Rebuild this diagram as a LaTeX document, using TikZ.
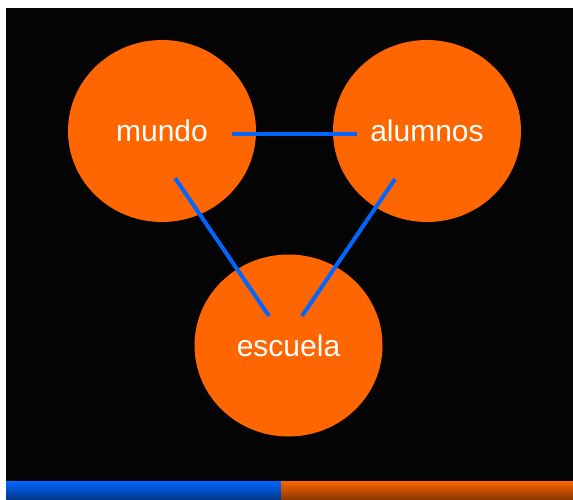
\documentclass[tikz,border=0pt]{standalone}
\usepackage{fontspec}
\setmainfont{Liberation Sans}
\usetikzlibrary{shapes.geometric}
\definecolor{naranja}{HTML}{FF6600}
\definecolor{azul}{HTML}{0066FF}
\definecolor{fondo}{HTML}{040404}
\def\franja#1#2#3{\shade [top color=#3,middle color=#3!90!black,bottom color=#3!55!black] (#1,481) rectangle (#2,499);}

\begin{document}
\begin{tikzpicture}[x=1pt,y=-1pt,
  bubble/.style={ellipse,fill=naranja,text=white,minimum width=188pt,
    minimum height=182pt,inner sep=0pt,font=\fontsize{30}{36}\selectfont},
  link/.style={draw=azul,line width=4pt}]
\useasboundingbox (0,0) rectangle (573,499);
\fill [white] (0,0) rectangle (573,499);
\fill [fondo] (6,8) rectangle (573,481);
\franja{6}{281}{azul}
\franja{281}{573}{naranja}
\node [bubble] (mundo) at (162,131) {mundo};
\node [bubble] (alumnos) at (427,131) {alumnos};
\node [bubble] (escuela) at (288.5,345.5) {escuela};
\draw [link] ([shift={(70,3)}]mundo.center) -- ([shift={(-70,3)}]alumnos.center);
\draw [link] ([shift={(13,47)}]mundo.center) -- ([shift={(-19.5,-29.5)}]escuela.center);
\draw [link] ([shift={(-32,48)}]alumnos.center) -- ([shift={(13.5,-29.5)}]escuela.center);
\end{tikzpicture}
\end{document}
